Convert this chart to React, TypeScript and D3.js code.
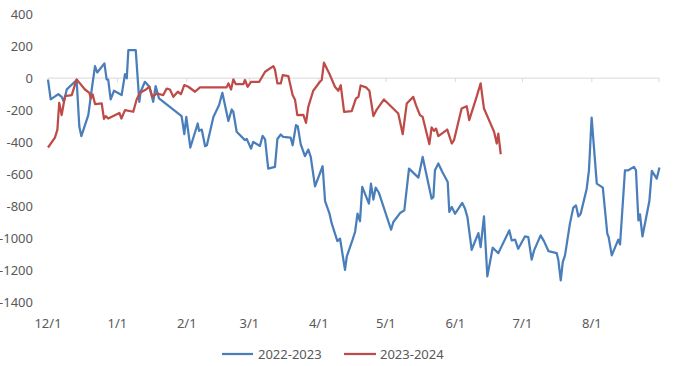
import React from "react";
import * as d3 from "d3";

// Days since 12/1 and values
const blueDays = [0, 1.2, 4.6, 6.1, 7.1, 8.4, 12.8, 14, 14.9, 18, 19.5, 21, 22, 25.2, 26.2, 26.9, 28, 29.5, 32.9, 34.4, 35.2, 35.9, 39.2, 40.8, 41.4, 43.3, 45.3, 47, 48.1, 49.6, 59.7, 60.9, 61.8, 63.6, 66.9, 67.5, 68.7, 70.2, 71, 73.9, 76.4, 77.9, 80.6, 82.1, 82.8, 84.3, 88, 88.8, 90.7, 91.7, 94.7, 95.9, 97, 98.4, 101.4, 102.5, 104, 105.1, 108.4, 109.3, 110.8, 111.6, 112.9, 114.8, 116.3, 117.4, 119.3, 122.7, 123.8, 125.7, 126.8, 129.3, 130.5, 132.7, 133.5, 136.1, 137.2, 138.3, 139.4, 140.4, 143.4, 144.3, 145.4, 146.4, 147.9, 153.3, 154.3, 157.3, 159.2, 161.3, 165.5, 167.4, 171.4, 172.2, 172.9, 174.4, 176.2, 178.6, 179.3, 180.4, 181.9, 185.1, 186.3, 187.4, 189.3, 192.3, 193.3, 194.8, 196.3, 198.7, 201.2, 206.1, 207.2, 208.7, 210.1, 213.1, 214.6, 216.1, 217.2, 220.1, 221.6, 223.6, 227.3, 228, 229.1, 230, 231, 233.2, 234.7, 235.9, 237, 238, 240.7, 241.7, 242.9, 245.2, 247.9, 249.9, 250.5, 251.9, 254.8, 255.6, 257.8, 259.3, 261.8, 262.7, 263.8, 264.5, 265.6, 268.7, 269.8, 272, 273.2];
const blueValues = [-10, -133, -100, -117, -148, -70, -12, -304, -362, -231, -75, 75, 35, 92, -8, -10, -133, -79, -106, 25, -2, 175, 175, -148, -85, -23, -54, -148, -50, -127, -237, -350, -242, -433, -283, -329, -321, -425, -419, -242, -169, -92, -267, -196, -210, -335, -387, -379, -440, -398, -423, -360, -383, -565, -554, -380, -352, -367, -371, -419, -294, -300, -412, -487, -446, -492, -675, -550, -767, -842, -908, -1017, -1002, -1196, -1113, -1008, -960, -846, -893, -679, -783, -658, -758, -683, -717, -946, -898, -842, -825, -565, -621, -492, -752, -742, -575, -533, -586, -648, -835, -804, -846, -779, -814, -867, -1071, -967, -1054, -862, -1237, -1058, -1092, -950, -1013, -1008, -1065, -988, -992, -1133, -1075, -981, -1017, -1079, -1092, -1133, -1262, -1148, -1106, -908, -808, -794, -863, -846, -690, -575, -246, -658, -683, -971, -992, -1106, -1008, -1038, -575, -575, -554, -575, -888, -850, -988, -767, -579, -627, -558];

const redDays = [0, 3.1, 4.2, 5, 6.1, 7.6, 10.6, 12.8, 16.5, 18.5, 19.1, 20, 21, 24, 25, 25.8, 26.9, 31.9, 32.8, 34.4, 38.1, 39.6, 41.1, 43.8, 45.3, 46.6, 48.6, 51.5, 53, 54.5, 56, 58, 59.4, 60.9, 62.7, 65.7, 67.9, 79.8, 80.6, 81.8, 82.8, 83.9, 87.3, 88, 89.2, 90.7, 94.4, 97, 100.7, 101.4, 102.5, 104, 104.9, 107.4, 109.3, 110.4, 111.4, 114.1, 115.3, 116.3, 118.5, 121.5, 122.3, 123.3, 126, 128.2, 129.7, 130.8, 132.3, 135.7, 137.6, 138.7, 139.7, 142.1, 143.6, 145.4, 146.9, 150.1, 156.5, 158.5, 160.3, 163.2, 164.4, 166.2, 167.4, 170.4, 171.4, 172.5, 173.4, 174.4, 178.4, 180.4, 181.4, 184.8, 187.1, 188.2, 191.5, 193.3, 194.8, 198.7, 199.3, 200.5, 201.2, 202.3];
const redValues = [-433, -371, -321, -154, -231, -112, -106, -8, -71, -92, -127, -102, -162, -158, -254, -237, -252, -217, -252, -200, -210, -133, -92, -71, -54, -117, -96, -106, -65, -71, -117, -85, -100, -44, -54, -85, -58, -58, -33, -71, -8, -37, -37, -12, -54, -23, -23, 40, 75, 54, -33, -33, 19, 12, -106, -137, -231, -229, -279, -179, -79, -23, -12, 96, 19, -54, -79, -44, -210, -206, -127, -117, -46, -58, -79, -237, -196, -133, -221, -350, -158, -117, -169, -231, -242, -412, -308, -329, -315, -362, -321, -408, -387, -190, -175, -262, -117, -33, -190, -315, -335, -408, -346, -475];

const yTicks = [400, 200, 0, -200, -400, -600, -800, -1000, -1200, -1400];
const monthLabels = ["12/1", "1/1", "2/1", "3/1", "4/1", "5/1", "6/1", "7/1", "8/1"];
const monthDays = [0, 31, 62, 90, 121, 151, 182, 212, 243];
const endDay = 273;
const seriesNames = ["2022-2023", "2023-2024"];
const colors = ["#4A7EBB", "#BE4B48"];

export default function App() {
  const W = 674, H = 366;
  const x = d3.scaleLinear().domain([0, endDay]).range([48, 659]);
  const y = d3.scaleLinear().domain([-1400, 400]).range([302.5, 14]);
  const line = d3.line<[number, number]>().x(d => x(d[0])).y(d => y(d[1]));
  const blue = blueDays.map((d, i) => [d, blueValues[i]] as [number, number]);
  const red = redDays.map((d, i) => [d, redValues[i]] as [number, number]);
  const font = "'Noto Sans', 'DejaVu Sans', sans-serif";
  const tc = "#595959";
  return (
    <svg width={W} height={H} style={{ position: "absolute", left: 0, top: 0 }} fontFamily={font}>
      <rect width={W} height={H} fill="#fff" />
      <line x1={x(0)} x2={x(endDay)} y1={y(0)} y2={y(0)} stroke="#D9D9D9" strokeWidth={1} />
      {[...monthDays, endDay].map((d, i) => (
        <line key={i} x1={x(d)} x2={x(d)} y1={y(0)} y2={y(0) + 4} stroke="#D9D9D9" strokeWidth={1} />
      ))}
      {yTicks.map(t => (
        <text key={t} x={33} y={y(t)} dy="0.35em" textAnchor="end" fontSize={13} fill={tc}>{t}</text>
      ))}
      {monthLabels.map((m, i) => (
        <text key={m} x={x(monthDays[i])} y={323} dy="0.35em" textAnchor="middle" fontSize={13} fill={tc}>{m}</text>
      ))}
      <path d={line(blue) || ""} fill="none" stroke={colors[0]} strokeWidth={2.25} strokeLinejoin="round" />
      <path d={line(red) || ""} fill="none" stroke={colors[1]} strokeWidth={2.25} strokeLinejoin="round" />
      <line x1={222} x2={253} y1={354} y2={354} stroke={colors[0]} strokeWidth={2.25} />
      <text x={258} y={354} dy="0.35em" fontSize={13} fill={tc}>{seriesNames[0]}</text>
      <line x1={344} x2={376} y1={354} y2={354} stroke={colors[1]} strokeWidth={2.25} />
      <text x={380} y={354} dy="0.35em" fontSize={13} fill={tc}>{seriesNames[1]}</text>
    </svg>
  );
}
